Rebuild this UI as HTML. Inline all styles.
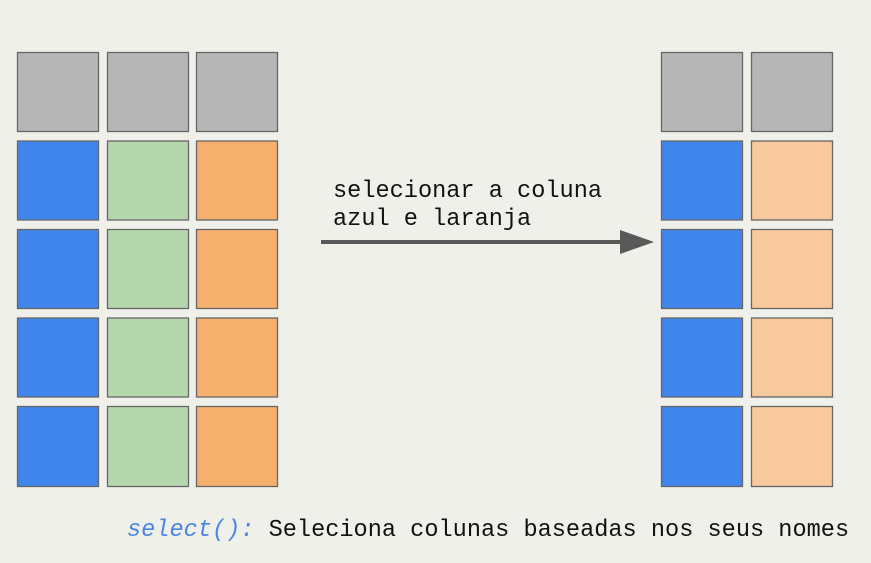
<!DOCTYPE html>
<html><head><style>
html,body{margin:0;padding:0;background:#f0f0eb;width:871px;height:563px;overflow:hidden}
</style></head><body>
<svg width="871" height="563" xmlns="http://www.w3.org/2000/svg">
<rect width="871" height="563" fill="#f0f0eb"/>
<g stroke="#666" stroke-width="1.3">
<!-- left -->
<rect x="17.5" y="52.5" width="81" height="79" fill="#b6b6b6"/>
<rect x="107.5" y="52.5" width="81" height="79" fill="#b6b6b6"/>
<rect x="196.5" y="52.5" width="81" height="79" fill="#b6b6b6"/>
<rect x="17.5" y="141" width="81" height="79" fill="#4086ec"/>
<rect x="107.5" y="141" width="81" height="79" fill="#b6d6ad"/>
<rect x="196.5" y="141" width="81" height="79" fill="#f6b06e"/>
<rect x="17.5" y="229.5" width="81" height="79" fill="#4086ec"/>
<rect x="107.5" y="229.5" width="81" height="79" fill="#b6d6ad"/>
<rect x="196.5" y="229.5" width="81" height="79" fill="#f6b06e"/>
<rect x="17.5" y="318" width="81" height="79" fill="#4086ec"/>
<rect x="107.5" y="318" width="81" height="79" fill="#b6d6ad"/>
<rect x="196.5" y="318" width="81" height="79" fill="#f6b06e"/>
<rect x="17.5" y="406.5" width="81" height="80" fill="#4086ec"/>
<rect x="107.5" y="406.5" width="81" height="80" fill="#b6d6ad"/>
<rect x="196.5" y="406.5" width="81" height="80" fill="#f6b06e"/>
<!-- right -->
<rect x="661.5" y="52.5" width="81" height="79" fill="#b6b6b6"/>
<rect x="751.5" y="52.5" width="81" height="79" fill="#b6b6b6"/>
<rect x="661.5" y="141" width="81" height="79" fill="#4086ec"/>
<rect x="751.5" y="141" width="81" height="79" fill="#f8c99d"/>
<rect x="661.5" y="229.5" width="81" height="79" fill="#4086ec"/>
<rect x="751.5" y="229.5" width="81" height="79" fill="#f8c99d"/>
<rect x="661.5" y="318" width="81" height="79" fill="#4086ec"/>
<rect x="751.5" y="318" width="81" height="79" fill="#f8c99d"/>
<rect x="661.5" y="406.5" width="81" height="80" fill="#4086ec"/>
<rect x="751.5" y="406.5" width="81" height="80" fill="#f8c99d"/>
</g>
<line x1="321" y1="242" x2="625" y2="242" stroke="#595959" stroke-width="4"/>
<polygon points="620,230 654,242 620,254" fill="#595959"/>
<g font-family="Liberation Mono, monospace" font-size="23.6" fill="#111">
<text x="333" y="197">selecionar a coluna</text>
<text x="333" y="225">azul e laranja</text>
<text x="127" y="536"><tspan fill="#4a86e8" font-style="italic">select():</tspan> Seleciona colunas baseadas nos seus nomes</text>
</g>
</svg>
</body></html>
